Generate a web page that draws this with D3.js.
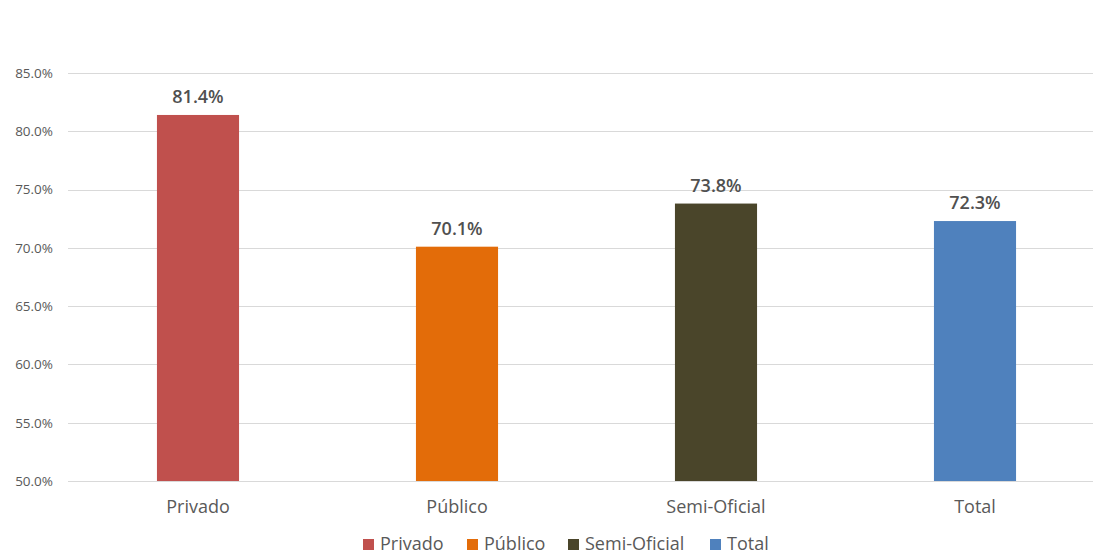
<!DOCTYPE html>
<html>
<head>
<meta charset="utf-8">
<script src="https://cdn.jsdelivr.net/npm/d3@7"></script>
<style>
  html, body { margin: 0; padding: 0; background: #ffffff; }
  svg { display: block; }
  text { font-family: "Open Sans", "Liberation Sans", sans-serif; fill: #595959; }
</style>
</head>
<body>
<svg id="chart" width="1093" height="554"></svg>
<script>
// Share by sector
const categories = ["Privado", "Público", "Semi-Oficial", "Total"];
const values = [81.4, 70.1, 73.8, 72.3];
const colors = ["#C0504D", "#E36C09", "#4A452A", "#4F81BD"];
const tickValues = [50, 55, 60, 65, 70, 75, 80, 85];

const svg = d3.select("#chart");

const y = d3.scaleLinear().domain([50, 85]).range([481, 73]);
const x = d3.scaleBand().domain(categories).range([68.5, 1104.5]).paddingInner(0.683).paddingOuter(0.3415);

// Gridlines
svg.append("g")
  .selectAll("line")
  .data(tickValues)
  .join("line")
  .attr("x1", 68).attr("x2", 1093)
  .attr("y1", d => Math.round(y(d)) + 0.5).attr("y2", d => Math.round(y(d)) + 0.5)
  .attr("stroke", "#d9d9d9").attr("stroke-width", 1.2);

// Y axis labels
const yAxis = d3.axisLeft(y).tickValues(tickValues).tickSize(0).tickPadding(0)
  .tickFormat(d => d.toFixed(1) + "%");
const gy = svg.append("g").attr("transform", "translate(53,0)").call(yAxis);
gy.select(".domain").remove();
gy.selectAll("text").style("font-size", "13.5px").style("fill", "#595959")
  .style("font-family", "'Open Sans', sans-serif");

// Bars
svg.append("g")
  .selectAll("rect")
  .data(categories)
  .join("rect")
  .attr("x", d => x(d))
  .attr("width", x.bandwidth())
  .attr("y", (d, i) => y(values[i]))
  .attr("height", (d, i) => y(50) - y(values[i]))
  .attr("fill", (d, i) => colors[i]);

// Value labels
svg.append("g")
  .selectAll("text")
  .data(categories)
  .join("text")
  .attr("x", d => x(d) + x.bandwidth() / 2)
  .attr("y", (d, i) => y(values[i]) - 12)
  .attr("text-anchor", "middle")
  .style("font-size", "18px")
  .style("font-weight", "600")
  .style("fill", "#505050")
  .text((d, i) => values[i].toFixed(1) + "%");

// Category labels
const xAxis = d3.axisBottom(x).tickSize(0).tickPadding(0);
const gx = svg.append("g").attr("transform", "translate(0,500)").call(xAxis);
gx.select(".domain").remove();
gx.selectAll("text").style("font-size", "18px").style("fill", "#595959")
  .style("font-family", "'Open Sans', sans-serif").attr("dy", "0.35em").attr("y", 7);

// Legend
const legendX = [363, 467, 568, 710];
const lg = svg.append("g");
categories.forEach((c, i) => {
  lg.append("rect").attr("x", legendX[i]).attr("y", 539).attr("width", 11).attr("height", 11).attr("fill", colors[i]);
  lg.append("text").attr("x", legendX[i] + 17).attr("y", 544).attr("dy", "0.35em")
    .style("font-size", "18px").text(c);
});
</script>
</body>
</html>
